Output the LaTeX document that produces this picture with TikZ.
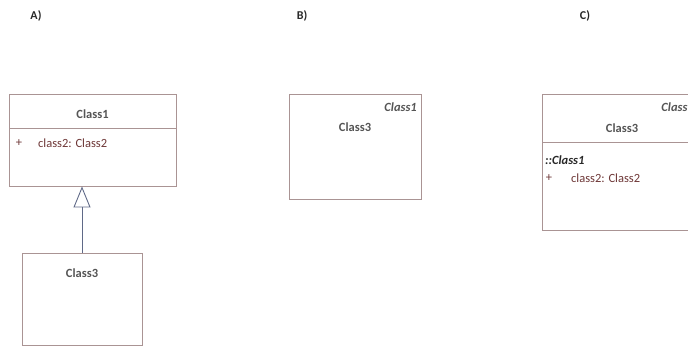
\documentclass[tikz,border=0pt]{standalone}
\usepackage{fontspec}
\setmainfont{Carlito}
\usetikzlibrary{arrows.meta}
\definecolor{boxline}{RGB}{170,148,148}
\definecolor{namegray}{RGB}{85,85,85}
\definecolor{attr}{RGB}{110,55,55}
\definecolor{linkblue}{RGB}{95,105,135}
\definecolor{labelc}{RGB}{40,40,40}
\tikzset{
  classbox/.style={draw=boxline, line width=0.9pt, fill=white, inner sep=0pt},
  cname/.style={font=\fontsize{12.5}{14}\selectfont\bfseries, text=namegray, inner sep=0pt},
  cnameit/.style={font=\fontsize{12.5}{14}\selectfont\bfseries\itshape, text=namegray, inner sep=0pt},
  attrtxt/.style={font=\fontsize{12.5}{14}\selectfont, text=attr, inner sep=0pt},
  panel/.style={font=\fontsize{12}{14}\selectfont\bfseries, text=labelc, inner sep=0pt},
  divider/.style={draw=boxline, line width=0.9pt},
  gen/.style={draw=linkblue, line width=0.9pt, -{Triangle[open, length=21pt, width=17pt]}}
}
\begin{document}
\begin{tikzpicture}[x=1pt, y=-1pt]
\useasboundingbox (0,0) rectangle (688,347);
\clip (0,0) rectangle (688,347);
% panel labels
\node[panel] (la) at (36,16) {A)};
\node[panel] (lb) at (302,16) {B)};
\node[panel] (lc) at (585,16) {C)};
% A
\node[classbox, minimum width=167pt, minimum height=92pt] (c1) at (92.5,140) {};
\draw[divider] (9,128) -- (176,128);
\node[cname] (c1n) at (92.5,114) {Class1};
\node[attrtxt] (c1p) at (19,143) {+};
\node[attrtxt, anchor=west] (c1a) at (38,143) {class2: Class2};
\node[classbox, minimum width=120pt, minimum height=92pt] (c3) at (82,299) {};
\node[cname] (c3n) at (82,273) {Class3};
\draw[gen] (c3.north) -- (c3.north |- c1.south);
% B
\node[classbox, minimum width=132pt, minimum height=105pt] (b3) at (355,146.5) {};
\node[cnameit, anchor=east] (b1n) at (417,107) {Class1};
\node[cname] (b3n) at (355,127) {Class3};
% C
\node[classbox, minimum width=160pt, minimum height=136pt] (cc3) at (622,162) {};
\draw[divider] (542,142) -- (702,142);
\node[cnameit, anchor=east] (cc1n) at (694,107) {Class1};
\node[cname] (cc3n) at (622,128) {Class3};
\node[cnameit, anchor=west, text=labelc] (cc1s) at (545,160) {::Class1};
\node[attrtxt] (ccp) at (549,178) {+};
\node[attrtxt, anchor=west] (cca) at (571,178) {class2: Class2};
\end{tikzpicture}
\end{document}
